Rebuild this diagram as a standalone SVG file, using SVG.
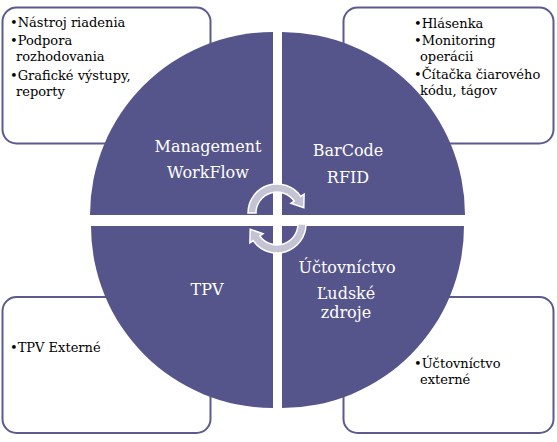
<svg xmlns="http://www.w3.org/2000/svg" width="557" height="442" viewBox="0 0 557 442">
<style>
.box{fill:#fff;stroke:#5B5B8F;stroke-width:2}
.q{fill:#55558B}
.bt{font-family:"DejaVu Serif","Liberation Serif",serif;font-size:13px;fill:#000}
.lt{font-family:"DejaVu Serif","Liberation Serif",serif;font-size:16px;fill:#fff;text-anchor:middle}
.arr{fill:#C3C3D3;stroke:#fff;stroke-width:1.5}
</style>
<rect width="557" height="442" fill="#fff"/>
<g id="box-tl">
<rect class="box" x="2.5" y="7.5" width="208" height="136" rx="14"/>
<text class="bt"><tspan x="10" y="27">•Nástroj riadenia</tspan><tspan x="10" y="45">•Podpora</tspan><tspan x="16" y="61">rozhodovania</tspan><tspan x="10" y="80">•Grafické výstupy,</tspan><tspan x="16" y="96">reporty</tspan></text>
</g>
<g id="box-tr">
<rect class="box" x="343.5" y="7.5" width="210" height="136" rx="14"/>
<text class="bt"><tspan x="414" y="28">•Hlásenka</tspan><tspan x="414" y="45">•Monitoring</tspan><tspan x="420" y="61">operácii</tspan><tspan x="414" y="79">•Čítačka čiarového</tspan><tspan x="420" y="95">kódu, tágov</tspan></text>
</g>
<g id="box-bl">
<rect class="box" x="2.5" y="297" width="208" height="136" rx="14"/>
<text class="bt" x="10" y="352">•TPV Externé</text>
</g>
<g id="box-br">
<rect class="box" x="343.5" y="297" width="210" height="136" rx="14"/>
<text class="bt"><tspan x="414" y="368">•Účtovníctvo</tspan><tspan x="420" y="384">externé</tspan></text>
</g>
<g id="q-tl">
<path class="q" d="M273,215 L90,215 A183,183 0 0 1 273,32 Z"/>
<text class="lt" x="208" y="152">Management</text>
<text class="lt" x="208" y="178">WorkFlow</text>
</g>
<g id="q-tr">
<path class="q" d="M282,215 L282,32 A183,183 0 0 1 465,215 Z"/>
<text class="lt" x="348" y="156">BarCode</text>
<text class="lt" x="348" y="183">RFID</text>
</g>
<g id="q-bl">
<path class="q" d="M273,226 L273,408 A182,182 0 0 1 91,226 Z"/>
<text class="lt" x="207" y="295">TPV</text>
</g>
<g id="q-br">
<path class="q" d="M282,226 L464,226 A182,182 0 0 1 282,408 Z"/>
<text class="lt" x="347" y="273">Účtovníctvo</text>
<text class="lt" x="346" y="299">Ľudské</text>
<text class="lt" x="346" y="318">zdroje</text>
</g>
<g id="connectors">
<path id="arr-top" class="arr" d="M248,213 A29,29 0 0 1 300.8,196.4 L304.1,194.1 L303.8,207.7 L290.9,203.3 L294.2,201 A21,21 0 0 0 256,213 Z"/>
<use href="#arr-top" transform="rotate(180 277 218.5)"/>
</g>
</svg>
